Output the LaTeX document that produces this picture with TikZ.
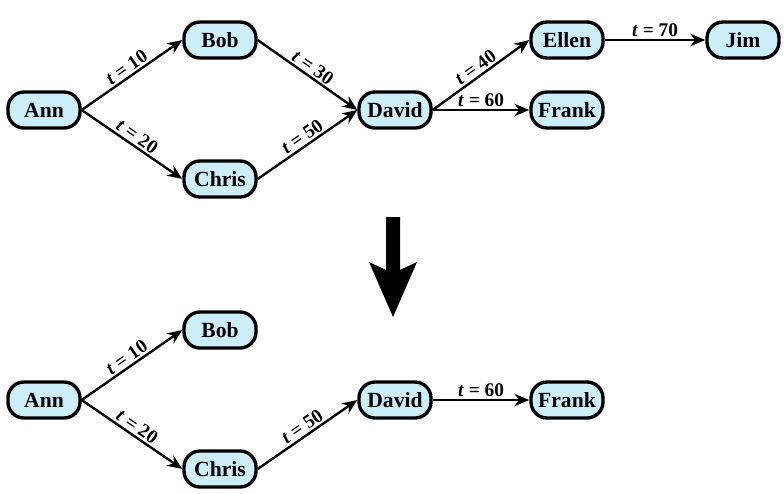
\documentclass[tikz,border=0pt]{standalone}
\usepackage{fontspec}
\setmainfont{Liberation Serif}
\usetikzlibrary{arrows.meta}
\definecolor{nodefill}{HTML}{CCEEF9}
\tikzset{
  person/.style={draw, line width=1.9pt, fill=nodefill, rounded corners=0.32cm,
    minimum width=1.44cm, minimum height=0.72cm, inner sep=0pt,
    font=\fontsize{12.3}{14}\selectfont\bfseries},
  link/.style={line width=1.35pt, -{Stealth[length=8.5pt,width=7pt]}},
  tlabel/.style={above, sloped, inner sep=1pt, font=\fontsize{11}{12}\selectfont\bfseries}
}
\newcommand{\tval}[1]{\textit{t} = #1}
\begin{document}
\begin{tikzpicture}
\useasboundingbox (0,0) rectangle (15.68,9.86);
% before
\node[person] (ann1) at (0.88, 7.66) {Ann};
\node[person] (bob1) at (4.40, 9.06) {Bob};
\node[person] (chris1) at (4.40, 6.28) {Chris};
\node[person] (david1) at (7.90, 7.66) {David};
\node[person] (ellen1) at (11.34, 9.06) {Ellen};
\node[person] (frank1) at (11.34, 7.66) {Frank};
\node[person] (jim1) at (14.86, 9.06) {Jim};
\draw[link] (ann1.east) -- node[tlabel] {\tval{10}} (bob1.west);
\draw[link] (ann1.east) -- node[tlabel] {\tval{20}} (chris1.west);
\draw[link] (bob1.east) -- node[tlabel] {\tval{30}} (david1.west);
\draw[link] (chris1.east) -- node[tlabel] {\tval{50}} (david1.west);
\draw[link] (david1.east) -- node[tlabel] {\tval{40}} (ellen1.west);
\draw[link] (david1.east) -- node[tlabel] {\tval{60}} (frank1.west);
\draw[link] (ellen1.east) -- node[tlabel] {\tval{70}} (jim1.west);
% big arrow
\fill (7.72, 5.52) -- (8.00, 5.52) -- (8.00, 4.46) -- (8.34, 4.62) -- (7.86, 3.52)
  -- (7.38, 4.62) -- (7.72, 4.46) -- cycle;
% after
\node[person] (ann2) at (0.88, 1.86) {Ann};
\node[person] (bob2) at (4.40, 3.26) {Bob};
\node[person] (chris2) at (4.40, 0.48) {Chris};
\node[person] (david2) at (7.90, 1.86) {David};
\node[person] (frank2) at (11.34, 1.86) {Frank};
\draw[link] (ann2.east) -- node[tlabel] {\tval{10}} (bob2.west);
\draw[link] (ann2.east) -- node[tlabel] {\tval{20}} (chris2.west);
\draw[link] (chris2.east) -- node[tlabel] {\tval{50}} (david2.west);
\draw[link] (david2.east) -- node[tlabel] {\tval{60}} (frank2.west);
\end{tikzpicture}
\end{document}
